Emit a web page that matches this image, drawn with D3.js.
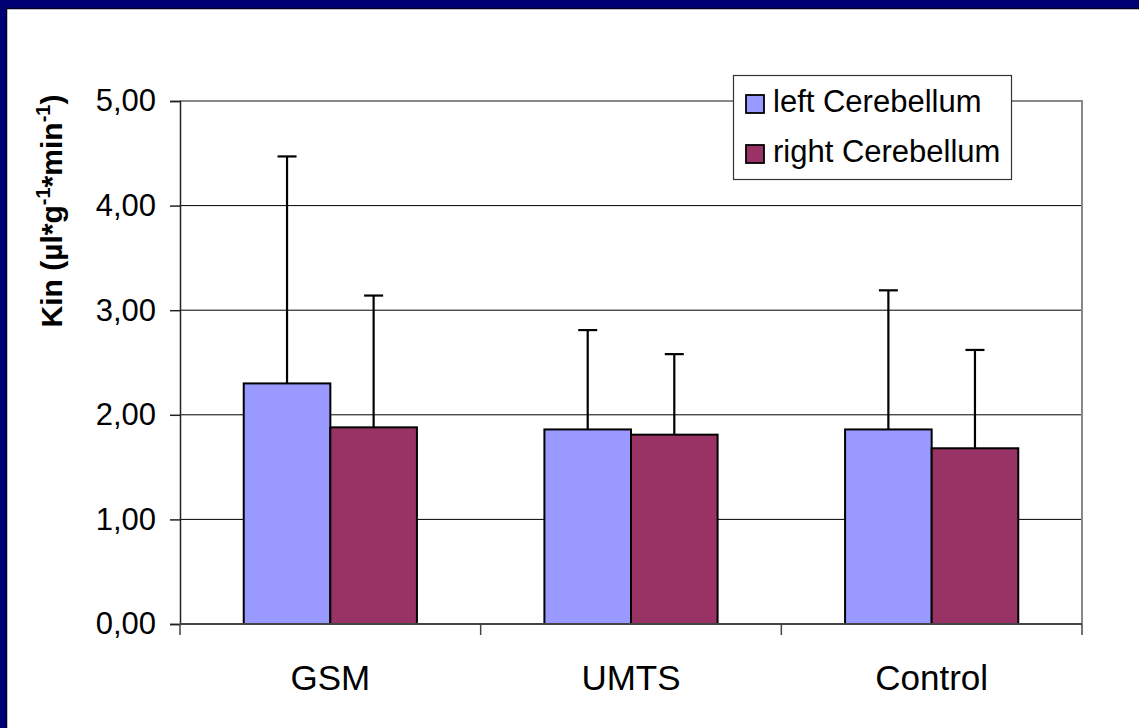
<!DOCTYPE html>
<html><head><meta charset="utf-8">
<script src="https://cdn.jsdelivr.net/npm/d3@7"></script>
<style>html,body{margin:0;padding:0;background:#fff;}svg{display:block;}</style>
</head><body>
<script>
const categories = ["GSM", "UMTS", "Control"];
const seriesNames = ["left Cerebellum", "right Cerebellum"];
const leftValues = [2.30, 1.86, 1.86];
const rightValues = [1.88, 1.81, 1.68];
const leftErrTop = [4.47, 2.81, 3.19];
const rightErrTop = [3.14, 2.58, 2.62];
const yTicks = [0, 1, 2, 3, 4, 5];
const colors = ["#9999FF", "#993366"];

(function () {
const W = 1139, H = 728;
const FONT = "Arial, 'Liberation Sans', sans-serif";
const svg = d3.select("body").append("svg").attr("width", W).attr("height", H);
svg.append("rect").attr("width", W).attr("height", H).attr("fill", "#fff");
// slide border
svg.append("rect").attr("x", 0).attr("y", 0).attr("width", W).attr("height", 8).attr("fill", "#000075");
svg.append("rect").attr("x", 0).attr("y", 0).attr("width", 6).attr("height", H).attr("fill", "#000075");
svg.append("line").attr("x1", 6).attr("x2", W).attr("y1", 8.5).attr("y2", 8.5).attr("stroke", "#000020").attr("stroke-width", 1.5);
svg.append("line").attr("x1", 6.5).attr("x2", 6.5).attr("y1", 8).attr("y2", H).attr("stroke", "#000020").attr("stroke-width", 1.5);

const pL = 180, pR = 1082, pT = 101, pB = 624;
const x = d3.scaleBand().domain(categories).range([pL, pR]);
const y = d3.scaleLinear().domain([0, 5]).range([pB, pT]);
const barW = x.bandwidth() * 0.288;

// gridlines
svg.append("g").selectAll("line").data(yTicks.filter(d => d > 0 && d < 5)).join("line")
  .attr("x1", pL).attr("x2", pR).attr("y1", d => y(d)).attr("y2", d => y(d))
  .attr("stroke", "#000").attr("stroke-width", 1);
// plot border top/right
svg.append("path").attr("d", `M${pL},${y(5)}H${pR}V${pB}`).attr("fill", "none")
  .attr("stroke", "#888").attr("stroke-width", 2);

const data = [];
categories.forEach((c, i) => {
  data.push({c, s: 0, v: leftValues[i], e: leftErrTop[i]});
  data.push({c, s: 1, v: rightValues[i], e: rightErrTop[i]});
});
const bx = d => x(d.c) + x.bandwidth() / 2 + (d.s === 0 ? -barW : 0);

// error bars
const eg = svg.append("g").attr("stroke", "#000").attr("stroke-width", 2.2);
eg.selectAll("line.v").data(data).join("line").attr("class", "v")
  .attr("x1", d => bx(d) + barW / 2).attr("x2", d => bx(d) + barW / 2)
  .attr("y1", d => y(d.v)).attr("y2", d => y(d.e));
eg.selectAll("line.c").data(data).join("line").attr("class", "c")
  .attr("x1", d => bx(d) + barW / 2 - 9.5).attr("x2", d => bx(d) + barW / 2 + 9.5)
  .attr("y1", d => y(d.e)).attr("y2", d => y(d.e));

// bars
svg.append("g").selectAll("rect").data(data).join("rect")
  .attr("x", d => bx(d)).attr("y", d => y(d.v))
  .attr("width", barW).attr("height", d => y(0) - y(d.v))
  .attr("fill", d => colors[d.s]).attr("stroke", "#000").attr("stroke-width", 2);

// y axis
const ya = d3.axisLeft(y).tickValues(yTicks).tickSize(10).tickPadding(14)
  .tickFormat(d => d3.format(".2f")(d).replace(".", ","));
const yg = svg.append("g").attr("transform", `translate(${pL},0)`).call(ya);
yg.select(".domain").attr("stroke", "#222").attr("stroke-width", 1.5);
yg.selectAll(".tick line").attr("stroke", "#222").attr("stroke-width", 1.5);
yg.selectAll("text").attr("font-family", FONT).attr("font-size", 31).attr("fill", "#000");

// x axis
const xg = svg.append("g").attr("transform", `translate(0,${pB})`);
xg.append("line").attr("x1", pL).attr("x2", pR).attr("y1", 0).attr("y2", 0).attr("stroke", "#444").attr("stroke-width", 2);
xg.selectAll("line.t").data([...categories.map(c => x(c)), pR]).join("line").attr("class", "t")
  .attr("x1", d => d).attr("x2", d => d).attr("y1", 0).attr("y2", 11).attr("stroke", "#444").attr("stroke-width", 1.5);
xg.selectAll("text").data(categories).join("text")
  .attr("x", d => x(d) + x.bandwidth() / 2).attr("y", 66).attr("text-anchor", "middle")
  .attr("font-family", FONT).attr("font-size", 35).attr("fill", "#000").text(d => d);

// y title
const yt = svg.append("text").attr("transform", `translate(62,211) rotate(-90)`)
  .attr("text-anchor", "middle").attr("font-family", FONT)
  .attr("font-size", 30).attr("font-weight", "bold").attr("fill", "#000");
yt.append("tspan").text("Kin (µl*g");
yt.append("tspan").attr("dy", -12).attr("font-size", 20).text("-1");
yt.append("tspan").attr("dy", 12).text("*min");
yt.append("tspan").attr("dy", -12).attr("font-size", 20).text("-1");
yt.append("tspan").attr("dy", 12).text(")");

// legend
const lg = svg.append("g");
lg.append("rect").attr("x", 733.5).attr("y", 75.5).attr("width", 278).attr("height", 104)
  .attr("fill", "#fff").attr("stroke", "#333").attr("stroke-width", 1.2);
const li = lg.selectAll("g").data(seriesNames).join("g")
  .attr("transform", (d, i) => `translate(746,${95 + i * 50})`);
li.append("rect").attr("width", 18).attr("height", 18).attr("fill", (d, i) => colors[i])
  .attr("stroke", "#000").attr("stroke-width", 1.8);
li.append("text").attr("x", 27).attr("y", 17).attr("font-family", FONT)
  .attr("font-size", 31).attr("fill", "#000").text(d => d);
})();
</script>
</body></html>
